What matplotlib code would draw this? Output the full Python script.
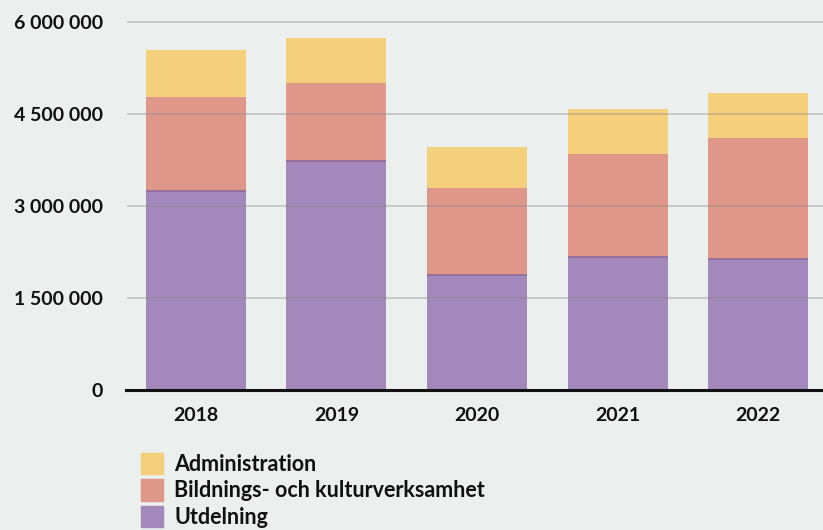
import matplotlib.pyplot as plt
import matplotlib.patches as mpatches
from matplotlib.ticker import FuncFormatter
import numpy as np

years = ["2018", "2019", "2020", "2021", "2022"]
utdelning = [3245000, 3734000, 1875000, 2168000, 2136000]
bildning = [1532000, 1271000, 1418000, 1680000, 1973000]
administration = [766000, 734000, 669000, 733000, 733000]
series_names = ["Administration", "Bildnings- och kulturverksamhet", "Utdelning"]
yticks = [0, 1500000, 3000000, 4500000, 6000000]

bg = "#ebefee"
c_adm = "#f4d07c"
c_bild = "#de9788"
c_utd = "#a388bb"

plt.rcParams['font.family'] = ['Lato', 'DejaVu Sans']
plt.rcParams['font.weight'] = 'bold'

fig = plt.figure(figsize=(8.23, 5.30), dpi=100, facecolor=bg)
ax = fig.add_axes([125.5 / 823, 140 / 530, 703 / 823, 368 / 530], facecolor=bg)

x = np.arange(len(years))
w = 0.712
utd = np.array(utdelning)
bil = np.array(bildning)
adm = np.array(administration)

ax.bar(x, utd, w, color=c_utd, zorder=2, edgecolor="none")
ax.bar(x, bil, w, bottom=utd, color=c_bild, zorder=2, edgecolor="none")
ax.bar(x, adm, w, bottom=utd + bil, color=c_adm, zorder=2, edgecolor="none")
# thin darker line on top of the purple segment
ax.hlines(utd, x - w / 2, x + w / 2, color="#8f6a9e", lw=1.2, zorder=3)

for t in yticks[1:]:
    ax.axhline(t, color="#8a8a8a", alpha=0.45, lw=1.2, zorder=4, xmin=0.003, clip_on=False)
ax.axhline(0, color="#111111", lw=2.2, zorder=5, clip_on=False)

ax.set_xlim(-0.5, 4.5)
ax.set_ylim(0, 6000000)
ax.set_xticks(x)
ax.set_xticklabels(years)
ax.set_yticks(yticks)
ax.yaxis.set_major_formatter(FuncFormatter(lambda v, p: f"{int(v):,}".replace(",", " ")))
ax.tick_params(axis="both", length=0, labelsize=14, labelcolor="#111111")
ax.tick_params(axis="y", pad=16)
ax.tick_params(axis="x", pad=12)
for s in ax.spines.values():
    s.set_visible(False)

handles = [mpatches.Patch(color=c_adm), mpatches.Patch(color=c_bild), mpatches.Patch(color=c_utd)]
leg = fig.legend(handles, series_names, loc="upper left",
                 bbox_to_anchor=(141 / 823, 1 - 453 / 530),
                 frameon=False, fontsize=15.5, handlelength=1.0, handleheight=1.15,
                 labelspacing=0.2, handletextpad=0.55, borderaxespad=0, borderpad=0)
for t in leg.get_texts():
    t.set_fontweight("bold")
    t.set_color("#111111")

fig.savefig("out.png", dpi=100, facecolor=bg)
